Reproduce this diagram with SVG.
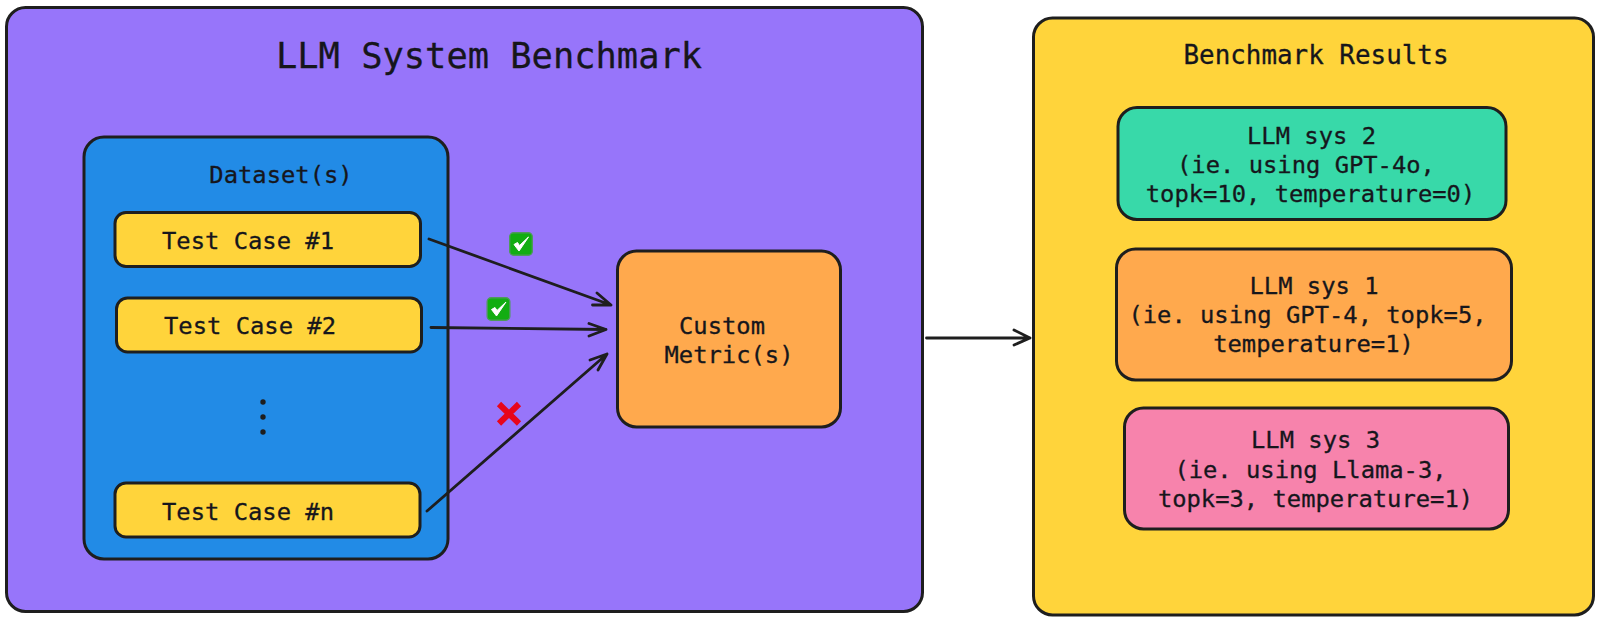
<svg xmlns="http://www.w3.org/2000/svg" width="1600" height="622" viewBox="0 0 1600 622">
<style>
.box{stroke:#1e1e1e;stroke-width:3}
text{font-family:"DejaVu Sans Mono","Liberation Mono",monospace;fill:#16161c;stroke:#16161c;stroke-width:.3;text-anchor:middle}
.t{font-size:23.8px}
.c{fill:none;stroke:#1e1e1e;stroke-width:2.8;stroke-linecap:round;stroke-linejoin:round}
</style>
<defs>
<g id="check"><rect x="0.7" y="0.7" width="22.6" height="22.6" rx="4" fill="#12ad12" stroke="#4d9a5a" stroke-width="1.4"/><path d="M5 12.500L10 19L19.500 5L10.500 13.500L8.500 10.500Z" fill="#fff" stroke="#fff" stroke-width="1"/></g>
</defs>
<rect width="1600" height="622" fill="#fff"/>
<g id="system-benchmark"><rect class="box" x="6.500" y="7.500" width="916" height="604" rx="19" fill="#9775fa"/><text x="489" y="68" style="font-size:35.400px">LLM System Benchmark</text></g>
<g id="benchmark-results"><rect class="box" x="1033.500" y="18" width="560" height="597" rx="19" fill="#ffd43b"/><text x="1316" y="64" style="font-size:25.900px">Benchmark Results</text></g>
<g id="datasets"><rect class="box" x="84" y="137" width="364" height="422" rx="20" fill="#228be6"/><text class="t" x="281" y="183">Dataset(s)</text>
<g fill="#1e1e1e"><circle cx="263" cy="402" r="2.700"/><circle cx="263" cy="417" r="2.700"/><circle cx="263" cy="432" r="2.700"/></g></g>
<g id="test-case-1"><rect class="box" x="115" y="212.500" width="305.500" height="54" rx="11" fill="#ffd43b"/><text class="t" x="248" y="248.500">Test Case #1</text></g>
<g id="test-case-2"><rect class="box" x="116.500" y="298" width="305" height="54" rx="11" fill="#ffd43b"/><text class="t" x="250" y="334">Test Case #2</text></g>
<g id="test-case-n"><rect class="box" x="115" y="483" width="305" height="54" rx="11" fill="#ffd43b"/><text class="t" x="248" y="520">Test Case #n</text></g>
<g id="custom-metrics"><rect class="box" x="617.500" y="251" width="223" height="176" rx="19" fill="#ffa94d"/><text class="t" x="722" y="334">Custom</text><text class="t" x="729" y="363">Metric(s)</text></g>
<g id="llm-sys-2"><rect class="box" x="1118" y="107.500" width="388" height="112" rx="19" fill="#38d9a9"/><text class="t" x="1311.500" y="143.500">LLM sys 2</text><text class="t" x="1306" y="173">(ie. using GPT-4o,</text><text class="t" x="1310.500" y="202">topk=10, temperature=0)</text></g>
<g id="llm-sys-1"><rect class="box" x="1116.500" y="249" width="395" height="131" rx="19" fill="#ffa94d"/><text class="t" x="1314" y="293.500">LLM sys 1</text><text class="t" x="1307.500" y="323">(ie. using GPT-4, topk=5,</text><text class="t" x="1313.500" y="352">temperature=1)</text></g>
<g id="llm-sys-3"><rect class="box" x="1124.500" y="408" width="384" height="121" rx="19" fill="#f783ac"/><text class="t" x="1315.500" y="448">LLM sys 3</text><text class="t" x="1310.500" y="478">(ie. using Llama-3,</text><text class="t" x="1315.500" y="507">topk=3, temperature=1)</text></g>
<g id="connectors">
<path class="c" d="M429 239L611 305M597 293L611 305L592.500 305"/>
<path class="c" d="M431 327.500L606 329.500M589 323.500L606 329.500L589 336"/>
<path class="c" d="M427 511L607 354M590 360L607 354L598 370"/>
<path class="c" d="M926.500 338H1030M1014 330L1030 338L1014 345"/>
</g>
<g id="marks">
<use href="#check" x="509" y="232"/>
<use href="#check" x="486.500" y="297"/>
<path d="M499 404L519 423.500M519 404L499 423.500" stroke="#e8051a" stroke-width="6" fill="none"/>
</g>
</svg>
